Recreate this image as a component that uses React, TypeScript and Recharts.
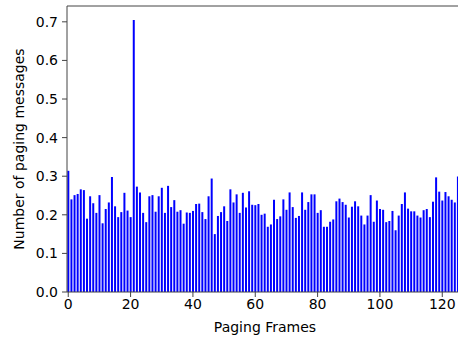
import { BarChart, Bar, XAxis, YAxis, ReferenceLine } from "recharts";

// paging messages per paging frame (frames 0..125)
const pagingMessages = [
    0.314, 0.24, 0.251, 0.254, 0.266, 0.264, 0.19, 0.248, 0.23, 0.205,
    0.251, 0.178, 0.215, 0.232, 0.298, 0.222, 0.194, 0.207, 0.257, 0.211,
    0.194, 0.705, 0.273, 0.258, 0.205, 0.181, 0.248, 0.251, 0.208, 0.248,
    0.27, 0.205, 0.275, 0.22, 0.238, 0.208, 0.212, 0.177, 0.206, 0.205,
    0.21, 0.228, 0.229, 0.207, 0.189, 0.248, 0.294, 0.15, 0.197, 0.207,
    0.222, 0.184, 0.266, 0.232, 0.253, 0.205, 0.257, 0.219, 0.261, 0.226,
    0.225, 0.228, 0.2, 0.203, 0.169, 0.175, 0.239, 0.189, 0.196, 0.24,
    0.213, 0.258, 0.22, 0.192, 0.197, 0.258, 0.213, 0.233, 0.253, 0.253,
    0.205, 0.212, 0.169, 0.169, 0.182, 0.188, 0.235, 0.242, 0.233, 0.226,
    0.193, 0.221, 0.235, 0.222, 0.198, 0.175, 0.198, 0.251, 0.182, 0.237,
    0.215, 0.213, 0.181, 0.184, 0.21, 0.16, 0.198, 0.228, 0.258, 0.216,
    0.209, 0.209, 0.198, 0.193, 0.212, 0.215, 0.194, 0.234, 0.297, 0.26,
    0.237, 0.259, 0.248, 0.239, 0.232, 0.299,
];
const xTicks = [0, 20, 40, 60, 80, 100, 120];
const yTicks = [0, 0.1, 0.2, 0.3, 0.4, 0.5, 0.6, 0.7];

const data = pagingMessages.map((v, i) => ({ frame: i, messages: v }));

const font = "'DejaVu Sans', sans-serif";
const tickStyle = { fill: "#000", fontSize: 14, fontFamily: font };
const spine = "#444";

export default function App() {
    return (
        <div
            style={{
                position: "absolute",
                left: 0,
                top: 0,
                width: 458,
                height: 337,
                overflow: "hidden",
                background: "#fff",
            }}
        >
            <BarChart
                width={463}
                height={337}
                data={data}
                margin={{ top: 6, right: 0, left: 0, bottom: 0 }}
                barCategoryGap="20%"
            >
                <XAxis
                    dataKey="frame"
                    type="number"
                    domain={[-0.4, 126.65]}
                    ticks={xTicks}
                    allowDataOverflow
                    height={45}
                    tick={tickStyle}
                    tickSize={5}
                    tickMargin={2}
                    axisLine={{ stroke: spine }}
                    tickLine={{ stroke: spine }}
                    label={{
                        value: "Paging Frames",
                        position: "insideBottom",
                        offset: 5,
                        style: { fill: "#000", fontSize: 14, fontFamily: font },
                    }}
                />
                <YAxis
                    type="number"
                    domain={[0, 0.741]}
                    ticks={yTicks}
                    allowDataOverflow
                    width={67}
                    tick={tickStyle}
                    tickSize={5}
                    tickMargin={4}
                    tickFormatter={(v: number) => v.toFixed(1)}
                    axisLine={{ stroke: spine }}
                    tickLine={{ stroke: spine }}
                    label={{
                        value: "Number of paging messages",
                        angle: -90,
                        position: "insideLeft",
                        offset: 19,
                        style: { textAnchor: "middle", fill: "#000", fontSize: 14, fontFamily: font },
                    }}
                />
                <ReferenceLine y={0.741} stroke={spine} />
                <Bar dataKey="messages" fill="#0000ff" isAnimationActive={false} />
            </BarChart>
        </div>
    );
}
